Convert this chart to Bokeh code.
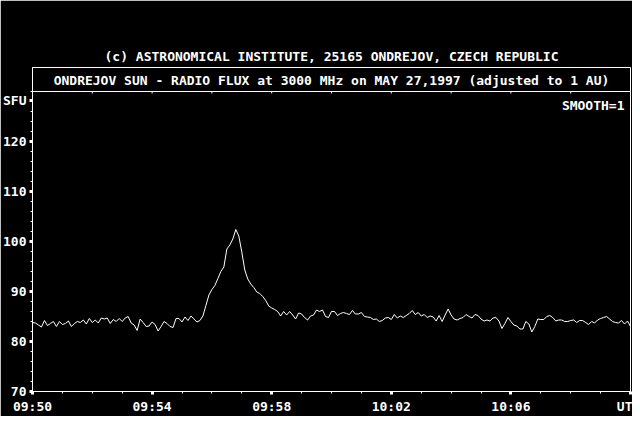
import numpy as np
from bokeh.plotting import figure
from bokeh.models import Range1d, FixedTicker, Label, Span
from bokeh.embed import file_html
from bokeh.resources import INLINE

# ---------------- data ----------------
title_top = "(c) ASTRONOMICAL INSTITUTE, 25165 ONDREJOV, CZECH REPUBLIC"
title_box = "ONDREJOV SUN - RADIO FLUX at 3000 MHz on MAY 27,1997 (adjusted to 1 AU)"
smooth_text = "SMOOTH=1"
y_unit = "SFU"
x_unit = "UT"

x_tick_minutes = [0, 4, 8, 12, 16, 20]          # minutes after 09:50
x_tick_labels = ["09:50", "09:54", "09:58", "10:02", "10:06", x_unit]
x_minor_minutes = list(range(0, 21))
top_tick_minutes = list(range(2, 20, 2))
y_ticks = [70, 80, 90, 100, 110, 120]
y_unit_level = 128.2
y_minor = list(range(70, 131, 2))

sample_step_min = 0.1   # one reading every 6 s

flux_0950_0953 = [83.8, 83.7, 83.3, 82.9, 84.2, 83.2, 83.6, 84.0, 83.0, 84.0,
                  83.4, 83.6, 84.1, 83.0, 83.6, 84.0, 83.8, 84.3, 83.5, 84.6,
                  83.8, 84.3, 83.7, 84.7, 84.5, 84.7, 83.6, 84.4, 84.0, 84.6,
                  84.0, 84.7, 85.0, 83.7]
flux_0953_0955 = [83.3, 82.2, 84.5, 83.8, 83.0, 83.1, 83.9, 83.4, 82.1, 83.0,
                  84.0, 83.6, 83.0, 82.8, 84.6, 84.6, 83.9, 84.9, 84.2, 85.1,
                  84.5, 83.9, 84.2]
flux_burst = [85.1, 87.2, 89.3, 90.4, 91.2, 92.6, 94.0, 94.9, 98.5, 99.3,
              100.5, 102.4, 101.1, 97.9, 94.3, 92.5, 91.5, 90.8, 89.9, 89.6,
              89.0]
flux_0957_1001 = [88.2, 87.1, 86.7, 86.4, 86.0, 85.1, 86.0, 85.3, 86.0, 85.3,
                  84.5, 85.7, 85.5, 84.8, 84.3, 85.1, 85.3, 86.3, 86.0, 86.3,
                  85.0, 84.8, 86.0, 86.0, 85.2, 85.6, 85.8, 85.6, 85.4, 86.2,
                  85.5, 85.5, 85.8]
flux_1001_1004 = [85.0, 84.9, 84.8, 84.4, 84.5, 84.0, 84.2, 84.7, 84.8, 84.4,
                  85.4, 84.7, 85.1, 84.8, 85.2, 85.6, 86.2, 85.4, 85.8, 85.1,
                  85.4, 84.8, 85.1, 84.9, 84.1, 85.2, 84.0, 85.3, 86.5, 85.3,
                  84.5, 84.3, 84.6, 84.8]
flux_1004_1007 = [85.4, 85.0, 84.7, 85.4, 85.2, 84.5, 84.1, 84.3, 84.1, 84.7,
                  84.8, 84.1, 82.6, 83.6, 84.8, 84.0, 83.3, 83.1, 82.5, 82.5,
                  84.0, 83.5, 81.9, 83.0, 84.5, 84.4, 84.4, 85.0, 85.2, 84.8,
                  84.1, 84.3, 84.3]
flux_1007_1010 = [84.0, 84.0, 84.2, 84.3, 83.8, 84.2, 84.2, 83.8, 83.4, 84.0,
                  83.7, 84.3, 84.6, 84.8, 85.0, 84.5, 84.0, 83.8, 83.7, 84.2,
                  83.5, 84.1, 83.0]

flux = (flux_0950_0953 + flux_0953_0955 + flux_burst + flux_0957_1001 +
        flux_1001_1004 + flux_1004_1007 + flux_1007_1010)
minutes = np.arange(len(flux)) * sample_step_min

# ---------------- styling ----------------
FONT = "DejaVu Sans Mono"
FS = "13px"
WHITE = "#ffffff"
BLACK = "#000000"

PX_PER_SFU = 5.0
frame_h = 324
y_top = 70 + frame_h / PX_PER_SFU   # frame extends up to include the title box
box_bottom = 130

p = figure(width=632, height=416, output_backend="svg", toolbar_location=None,
           x_range=Range1d(0, 20), y_range=Range1d(70, y_top),
           min_border_left=30, min_border_right=2,
           min_border_top=67, min_border_bottom=25,
           title=title_top)
p.background_fill_color = BLACK
p.border_fill_color = BLACK
p.outline_line_color = WHITE
p.outline_line_width = 1
p.xgrid.visible = False
p.ygrid.visible = False

p.title.align = "center"
p.title.text_color = WHITE
p.title.text_font = FONT
p.title.text_font_size = FS
p.title.text_font_style = "bold"
p.title.standoff = 7

for ax in (p.xaxis[0], p.yaxis[0]):
    ax.axis_line_color = WHITE
    ax.axis_line_width = 1
    ax.major_tick_line_color = WHITE
    ax.major_tick_line_width = 3
    ax.major_tick_in = 0
    ax.major_tick_out = 3
    ax.minor_tick_line_color = WHITE
    ax.minor_tick_line_width = 1
    ax.minor_tick_in = 0
    ax.minor_tick_out = 2
    ax.major_label_text_color = WHITE
    ax.major_label_text_font = FONT
    ax.major_label_text_font_size = FS
    ax.major_label_text_font_style = "bold"

p.xaxis.ticker = FixedTicker(ticks=x_tick_minutes, minor_ticks=x_minor_minutes)
p.xaxis.major_label_overrides = {m: lab for m, lab in zip(x_tick_minutes, x_tick_labels)}
p.xaxis.major_label_standoff = 4

p.yaxis.ticker = FixedTicker(ticks=y_ticks + [y_unit_level], minor_ticks=y_minor)
p.yaxis.major_label_overrides = {y_unit_level: y_unit}
p.yaxis.major_label_standoff = 3

# separator line between title box and plot area
p.add_layout(Span(location=box_bottom, dimension="width", line_color=WHITE, line_width=1))
# small ticks hanging from the separator line
p.segment(x0=top_tick_minutes, y0=[box_bottom] * len(top_tick_minutes),
          x1=top_tick_minutes, y1=[box_bottom - 2 / PX_PER_SFU] * len(top_tick_minutes),
          line_color=WHITE, line_width=1)

# data trace
p.line(minutes, flux, line_color=WHITE, line_width=1)

def lab(text, x, y, align="center", baseline="middle", x_offset=0, y_offset=0):
    p.add_layout(Label(text=text, x=x, y=y, text_align=align, text_baseline=baseline,
                       x_offset=x_offset, y_offset=y_offset,
                       text_color=WHITE, text_font=FONT, text_font_size=FS,
                       text_font_style="bold"))

lab(title_box, 10, (box_bottom + y_top) / 2, y_offset=-1)
lab(smooth_text, 20, box_bottom, align="right", x_offset=-6, y_offset=-14)

open("out.html", "w").write(file_html(p, INLINE))
